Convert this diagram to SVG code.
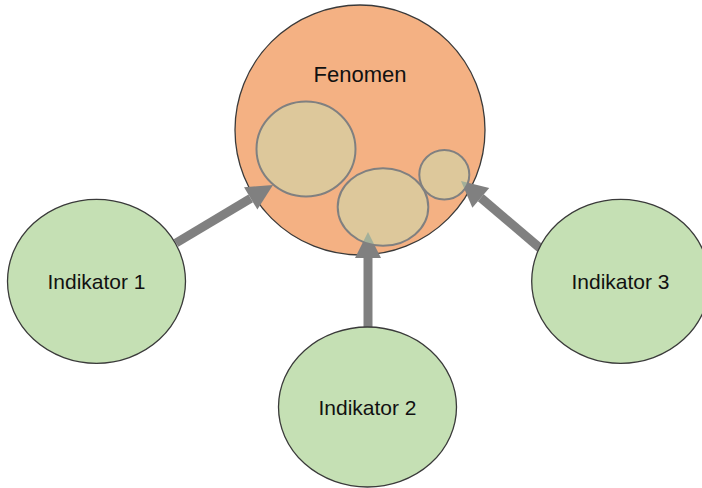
<svg xmlns="http://www.w3.org/2000/svg" width="702" height="488" viewBox="0 0 702 488">
<style>
.big{fill:#F4B183;stroke:#3a3a3a;stroke-width:1.3}
.sub{fill:#C5E0B4;fill-opacity:0.5;stroke:#808080;stroke-width:2}
.ind{fill:#C5E0B4;stroke:#3a3a3a;stroke-width:1.3}
.lbl{font-family:"Liberation Sans",Arial,sans-serif;font-size:21px;fill:#111;text-anchor:middle}
.arr{stroke:#808080;stroke-width:9;fill:none;marker-end:url(#head)}
</style>
<defs>
<marker id="head" markerUnits="userSpaceOnUse" markerWidth="27" markerHeight="27" refX="0" refY="13" orient="auto" overflow="visible">
<path d="M0,0 L26,13 L0,26 z" fill="#808080"/>
</marker>
</defs>
<g id="fenomen">
<circle class="big" cx="360" cy="130" r="125"/>
<text class="lbl" x="360" y="82" style="font-size:22px">Fenomen</text>
</g>
<g id="connectors">
<line class="arr" x1="176" y1="243" x2="250.7" y2="198.3"/>
<line class="arr" x1="368" y1="327" x2="368" y2="258"/>
<line class="arr" x1="541" y1="249" x2="480.8" y2="197.8"/>
</g>
<g id="delfenomen1"><ellipse class="sub" cx="306" cy="149" rx="49.5" ry="47.5"/></g>
<g id="delfenomen2"><ellipse class="sub" cx="383" cy="207" rx="45.3" ry="38.8"/></g>
<g id="delfenomen3"><ellipse class="sub" cx="444.3" cy="174.7" rx="25" ry="24.7"/></g>
<g id="indikator1">
<ellipse class="ind" cx="96.5" cy="281.3" rx="89" ry="82"/>
<text class="lbl" x="96.5" y="289">Indikator 1</text>
</g>
<g id="indikator2">
<ellipse class="ind" cx="367.5" cy="407" rx="89" ry="80"/>
<text class="lbl" x="367.5" y="415">Indikator 2</text>
</g>
<g id="indikator3">
<ellipse class="ind" cx="620.7" cy="281.3" rx="89" ry="82"/>
<text class="lbl" x="620.5" y="289">Indikator 3</text>
</g>
</svg>
